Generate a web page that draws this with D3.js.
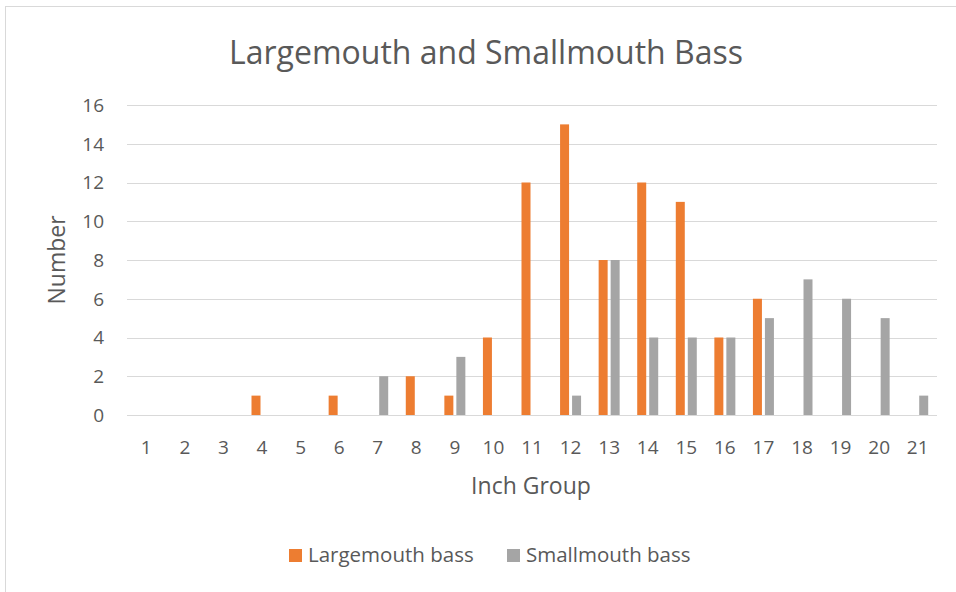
<!DOCTYPE html>
<html>
<head>
<meta charset="utf-8">
<script src="https://cdn.jsdelivr.net/npm/d3@7"></script>
<style>
  body { margin: 0; background: #fff; }
  text { font-family: "Open Sans", sans-serif; fill: #595959; }
</style>
</head>
<body>
<svg></svg>
<script>
// inch groups and counts
var inchGroups = ['1','2','3','4','5','6','7','8','9','10','11','12','13','14','15','16','17','18','19','20','21'];
var largemouth = [0,0,0,1,0,1,0,2,1,4,12,15,8,12,11,4,6,0,0,0,0];
var smallmouth = [0,0,0,0,0,0,2,0,3,0,0,1,8,4,4,4,5,7,6,5,1];
var seriesNames = ['Largemouth bass', 'Smallmouth bass'];
var seriesColors = ['#ED7D31', '#A5A5A5'];
var yTicks = [0,2,4,6,8,10,12,14,16];

var W = 956, H = 592;
var plotLeft = 127, plotRight = 937, plotTop = 105, plotBottom = 415;

var svg = d3.select("svg")
    .attr("width", W)
    .attr("height", H)

// chart frame
svg.append("rect")
    .attr("x", 5.5).attr("y", 6.5)
    .attr("width", W + 10).attr("height", H + 10)
    .attr("fill", "none")
    .attr("stroke", "#D9D9D9")
    .attr("stroke-width", 1)

var x = d3.scaleBand().domain(inchGroups).range([plotLeft, plotRight]).padding(0)
var y = d3.scaleLinear().domain([0, 16]).range([plotBottom, plotTop])
var inner = d3.scaleBand().domain(seriesNames).range([-10.5, 10.5]).paddingInner(0.25)

// gridlines
svg.append("g").selectAll("line")
    .data(yTicks)
    .enter()
    .append("line")
    .attr("x1", plotLeft).attr("x2", plotRight)
    .attr("y1", d => Math.round(y(d)) + 0.5)
    .attr("y2", d => Math.round(y(d)) + 0.5)
    .attr("stroke", "#D9D9D9")
    .attr("stroke-width", 1)

// y tick labels
svg.append("g").selectAll("text")
    .data(yTicks)
    .enter()
    .append("text")
    .attr("x", plotLeft - 23)
    .attr("y", d => y(d))
    .attr("dy", "0.36em")
    .attr("text-anchor", "end")
    .style("font-size", "19px")
    .text(d => d)

// x tick labels
svg.append("g").selectAll("text")
    .data(inchGroups)
    .enter()
    .append("text")
    .attr("x", d => x(d) + x.bandwidth() / 2)
    .attr("y", 454)
    .attr("text-anchor", "middle")
    .style("font-size", "19px")
    .text(d => d)

// bars
var series = [largemouth, smallmouth];
series.forEach(function(vals, s) {
    svg.append("g").selectAll("rect")
        .data(vals)
        .enter()
        .append("rect")
        .attr("x", (d, i) => x(inchGroups[i]) + x.bandwidth() / 2 + inner(seriesNames[s]))
        .attr("y", d => y(d))
        .attr("width", inner.bandwidth())
        .attr("height", d => plotBottom - y(d))
        .attr("fill", seriesColors[s])
})

// title
svg.append("text")
    .attr("x", 486).attr("y", 64)
    .attr("text-anchor", "middle")
    .style("font-size", "32px")
    .text("Largemouth and Smallmouth Bass")

// axis titles
svg.append("text")
    .attr("x", 531).attr("y", 494)
    .attr("text-anchor", "middle")
    .style("font-size", "23px")
    .text("Inch Group")

svg.append("text")
    .attr("transform", "translate(65,260) rotate(-90)")
    .attr("text-anchor", "middle")
    .style("font-size", "23px")
    .text("Number")

// legend
var legendX = [289, 507];
var legend = svg.append("g").selectAll("g")
    .data(seriesNames)
    .enter()
    .append("g")
    .attr("transform", (d, i) => "translate(" + legendX[i] + ",549)")

legend.append("rect")
    .attr("width", 13).attr("height", 13)
    .attr("fill", (d, i) => seriesColors[i])

legend.append("text")
    .attr("x", 19).attr("y", 13)
    .style("font-size", "20.5px")
    .text(d => d)
</script>
</body>
</html>
